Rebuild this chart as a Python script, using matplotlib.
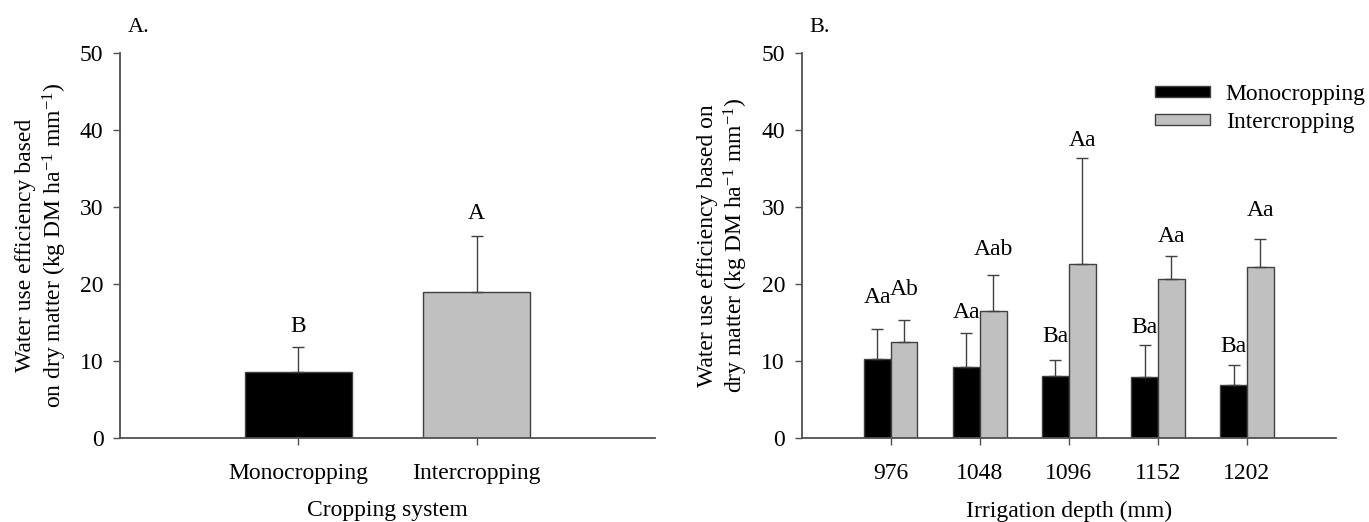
import matplotlib
matplotlib.use('Agg')
import matplotlib.pyplot as plt
import numpy as np

plt.rcParams['font.family'] = ['Liberation Serif', 'DejaVu Serif']
plt.rcParams['mathtext.fontset'] = 'custom'
plt.rcParams['mathtext.rm'] = 'Liberation Serif'
plt.rcParams['mathtext.it'] = 'Liberation Serif:italic'

# panel A: cropping system
systems = ['Monocropping', 'Intercropping']
sys_mean = [8.5, 18.9]
sys_err = [3.3, 7.3]
sys_letters = ['B', 'A']
sys_letter_y = [13.7, 28.5]

# panel B: irrigation depth
depths = ['976', '1048', '1096', '1152', '1202']
mono_mean = [10.3, 9.2, 8.0, 7.9, 6.8]
mono_err = [3.9, 4.45, 2.1, 4.1, 2.7]
inter_mean = [12.5, 16.5, 22.6, 20.6, 22.2]
inter_err = [2.8, 4.6, 13.8, 3.0, 3.7]
mono_letters = ['Aa', 'Aa', 'Ba', 'Ba', 'Ba']
inter_letters = ['Ab', 'Aab', 'Aa', 'Aa', 'Aa']
mono_letter_y = [17.5, 15.6, 12.5, 13.6, 11.2]
inter_letter_y = [18.6, 23.8, 38.0, 25.5, 28.8]

black = 'black'
grey = '#c0c0c0'
edge = '#404040'
axcol = '#505050'
fs = 17

fig = plt.figure(figsize=(13.69, 5.22), dpi=100)
axA = fig.add_axes([0.0877, 0.1615, 0.3908, 0.7364])
axB = fig.add_axes([0.5856, 0.1615, 0.3903, 0.7364])


def style(ax):
    for s in ['top', 'right']:
        ax.spines[s].set_visible(False)
    for s in ['left', 'bottom']:
        ax.spines[s].set_linewidth(1.3)
        ax.spines[s].set_color(axcol)
    ax.tick_params(direction='out', length=5, width=1, color=axcol, labelsize=fs)
    ax.tick_params(axis='x', pad=13)
    ax.tick_params(axis='y', pad=7)
    ax.set_ylim(0, 50)
    ax.set_yticks(np.arange(0, 51, 10))


errkw = dict(ecolor=edge, elinewidth=1, capsize=4.3, capthick=1)

# ---- A
xa = np.arange(1, len(systems) + 1)
axA.bar(xa, sys_mean, width=0.6, color=[black, grey], edgecolor=edge, linewidth=1,
        yerr=[np.zeros(len(sys_err)), sys_err], error_kw=errkw)
for x, t, y in zip(xa, sys_letters, sys_letter_y):
    axA.text(x, y, t, ha='center', va='baseline', fontsize=fs)
axA.set_xlim(0, 3)
axA.set_xticks(xa)
axA.set_xticklabels(systems)
style(axA)
axA.set_xlabel('Cropping system', fontsize=fs, labelpad=12)
axA.set_ylabel('Water use efficiency based\non dry matter (kg DM ha$^{-1}$ mm$^{-1}$)',
               fontsize=fs, labelpad=8, linespacing=1.2)
axA.text(0.015, 1.055, 'A.', transform=axA.transAxes, fontsize=16, va='baseline')

# ---- B
xb = np.arange(1, len(depths) + 1)
w = 0.3
b1 = axB.bar(xb - w / 2, mono_mean, width=w, color=black, edgecolor=edge, linewidth=1,
             yerr=[np.zeros(len(mono_err)), mono_err], error_kw=errkw, label='Monocropping')
b2 = axB.bar(xb + w / 2, inter_mean, width=w, color=grey, edgecolor=edge, linewidth=1,
             yerr=[np.zeros(len(inter_err)), inter_err], error_kw=errkw, label='Intercropping')
for x, t, y in zip(xb - w / 2, mono_letters, mono_letter_y):
    axB.text(x, y, t, ha='center', va='baseline', fontsize=fs)
for x, t, y in zip(xb + w / 2, inter_letters, inter_letter_y):
    axB.text(x, y, t, ha='center', va='baseline', fontsize=fs)
axB.set_xlim(0, 6)
axB.set_xticks(xb)
axB.set_xticklabels(depths)
style(axB)
axB.set_xlabel('Irrigation depth (mm)', fontsize=fs, labelpad=12)
axB.set_ylabel('Water use efficiency based on\ndry matter (kg DM ha$^{-1}$ mm$^{-1}$)',
               fontsize=fs, labelpad=8, linespacing=1.2)
axB.text(0.014, 1.055, 'B.', transform=axB.transAxes, fontsize=16, va='baseline')
axB.legend(handles=[b1, b2], loc='upper left', bbox_to_anchor=(0.661, 0.92),
           frameon=False, fontsize=fs, handlelength=2.35, handleheight=0.3,
           handletextpad=0.65, labelspacing=0.3, borderpad=0, borderaxespad=0)

fig.savefig('out.png', dpi=100)
